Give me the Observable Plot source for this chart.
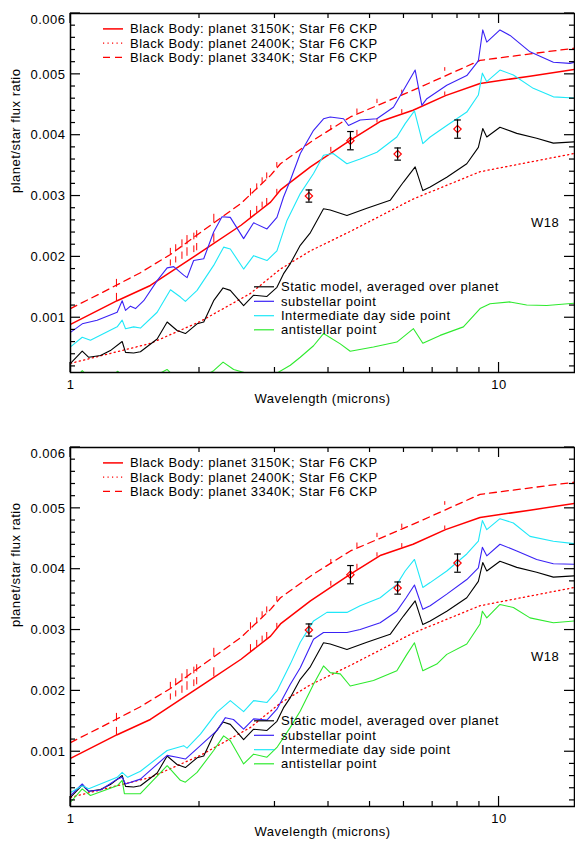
<!DOCTYPE html>
<html>
<head>
<meta charset="utf-8">
<script src="https://cdn.jsdelivr.net/npm/d3@7"></script>
<script src="https://cdn.jsdelivr.net/npm/@observablehq/plot@0.6"></script>
<style>
  html, body { margin: 0; padding: 0; background: #fff; }
  #chart { width: 575px; }
  svg { display: block; }
  svg text { letter-spacing: 0.5px; }
</style>
</head>
<body>
<div id="chart"></div>
<script>
// ---------- data (wavelength in microns, planet/star flux ratio) ----------
const bb3150 = [[1.0,0.00089],[1.285,0.00128],[1.536,0.00153],[2.046,0.00211],[2.5,0.00252],[2.93,0.0029],[3.09,0.0031],[3.63,0.00348],[4.5,0.00392],[5.3,0.00423],[6.3,0.00441],[7.5,0.00465],[9.03,0.00485],[11.8,0.00497],[15,0.00508]];
const bb2400 = [[1.0,0.00025],[1.54,0.00058],[2.01,0.00094],[2.63,0.0014],[3.09,0.0018],[3.63,0.0021],[4.5,0.00242],[6.3,0.00295],[9.03,0.0034],[15,0.0037]];
const bb3340 = [[1.0,0.00115],[1.175,0.0014],[1.456,0.00174],[1.711,0.00204],[2.046,0.00244],[2.5,0.00288],[2.93,0.00334],[3.09,0.00353],[3.69,0.00392],[4.5,0.0043],[6.31,0.00474],[9.03,0.00523],[15,0.00543]];
// stellar line spikes: [wavelength, base, top]
const spikes3150 = [[1.28,0.00127,0.0014],[1.71,0.00185,0.00195],[1.76,0.0019,0.002],[1.82,0.00196,0.00208],[1.87,0.00201,0.00215],[1.94,0.00207,0.00218],[1.97,0.0021,0.00222],[2.16,0.00223,0.00238],[2.63,0.00264,0.00276],[2.72,0.00272,0.00283],[2.80,0.0028,0.0029],[2.87,0.00285,0.00296],[3.03,0.00303,0.00311],[4.05,0.00372,0.0038],[4.66,0.00399,0.00408],[5.19,0.0042,0.00427],[5.93,0.00435,0.00442],[7.47,0.00465,0.00471]];
const spikes3340 = [[1.28,0.0015,0.00163],[1.71,0.00204,0.00214],[1.76,0.00209,0.0022],[1.82,0.00215,0.00228],[1.87,0.0022,0.00235],[1.94,0.00228,0.00239],[1.97,0.00231,0.00243],[2.16,0.00256,0.0027],[2.63,0.003,0.00312],[2.72,0.0031,0.0032],[2.80,0.0032,0.0033],[2.87,0.00328,0.00338],[3.03,0.00347,0.00355],[4.05,0.00408,0.00416],[4.66,0.00435,0.00443],[5.19,0.00452,0.00459],[5.93,0.00467,0.00474],[7.47,0.00505,0.00511]];

const staticModel = [[1.0,0.00025],[1.065,0.00045],[1.103,0.00035],[1.175,0.00038],[1.239,0.00046],[1.32,0.00061],[1.344,0.00043],[1.404,0.00042],[1.456,0.00044],[1.593,0.00065],[1.681,0.00093],[1.773,0.00079],[1.854,0.00074],[1.974,0.0009],[2.046,0.00093],[2.158,0.00128],[2.27,0.00149],[2.36,0.00145],[2.535,0.0012],[2.675,0.00137],[2.874,0.00135],[3.032,0.0015],[3.14,0.00172],[3.258,0.00189],[3.437,0.00219],[3.63,0.0024],[3.894,0.00279],[4.037,0.00277],[4.416,0.00268],[4.916,0.0028],[5.571,0.00293],[5.984,0.00323],[6.372,0.00348],[6.64,0.00309],[6.907,0.00315],[7.552,0.00331],[8.409,0.00353],[8.948,0.0038],[9.162,0.00411],[9.362,0.00397],[10.05,0.00413],[11.0,0.00403],[12.24,0.00395],[13.39,0.00387],[15,0.00389]];

const subTop = [[1.0,0.00076],[1.065,0.0009],[1.154,0.00096],[1.285,0.00109],[1.32,0.00128],[1.344,0.00112],[1.38,0.00119],[1.418,0.00115],[1.482,0.00128],[1.593,0.00161],[1.681,0.00182],[1.741,0.00184],[1.837,0.0017],[1.871,0.00166],[1.938,0.00194],[2.046,0.00197],[2.158,0.00241],[2.257,0.00266],[2.36,0.00265],[2.535,0.0023],[2.675,0.00256],[2.874,0.00246],[3.032,0.00265],[3.14,0.00298],[3.258,0.00326],[3.437,0.0037],[3.691,0.00408],[3.894,0.00427],[4.037,0.0043],[4.337,0.00427],[4.454,0.00416],[4.742,0.00425],[5.187,0.00427],[5.671,0.00446],[5.984,0.00474],[6.372,0.00507],[6.605,0.00449],[6.785,0.0046],[7.552,0.00482],[8.409,0.00498],[8.948,0.00522],[9.162,0.00573],[9.362,0.00553],[10.05,0.00573],[10.61,0.00564],[11.81,0.00537],[13.39,0.0052],[14.64,0.00518],[15,0.0052]];
const interTop = [[1.0,0.00052],[1.065,0.00068],[1.113,0.00063],[1.285,0.00085],[1.32,0.00096],[1.344,0.00082],[1.404,0.00085],[1.456,0.00083],[1.593,0.00109],[1.711,0.00146],[1.805,0.00134],[1.854,0.00127],[1.974,0.00145],[2.158,0.00186],[2.277,0.00216],[2.36,0.00213],[2.535,0.0018],[2.675,0.00202],[2.874,0.00194],[3.032,0.0021],[3.2,0.0026],[3.437,0.00304],[3.691,0.00337],[3.894,0.00367],[4.1,0.0037],[4.416,0.00353],[4.742,0.00361],[5.187,0.00372],[5.775,0.00397],[6.039,0.00419],[6.348,0.0044],[6.64,0.00386],[6.907,0.00397],[7.552,0.00416],[8.409,0.00438],[8.948,0.00466],[9.143,0.00502],[9.362,0.00488],[10.05,0.00507],[10.8,0.00499],[12.02,0.00477],[13.39,0.00463],[15,0.00461]];
const antiTop = [[1.0,0.00005],[1.05,0.00008],[1.065,0.00013],[1.09,0.00006],[1.25,0.00006],[1.29,0.00012],[1.31,0.00006],[1.6,0.00007],[1.68,0.00015],[1.72,0.00008],[2.1,0.00008],[2.158,0.00013],[2.27,0.00027],[2.403,0.00015],[2.6,0.00008],[3.032,0.00009],[3.258,0.00022],[3.437,0.00035],[3.691,0.00054],[3.894,0.00074],[4.261,0.00057],[4.495,0.00045],[5.093,0.00052],[5.775,0.0006],[6.314,0.00082],[6.64,0.00058],[7.286,0.00071],[8.257,0.00085],[9.031,0.00115],[9.528,0.00123],[10.61,0.00126],[11.6,0.00121],[12.92,0.0012],[15,0.00124]];

const subBottom = [[1.0,0.00028],[1.065,0.00047],[1.103,0.00035],[1.175,0.00037],[1.285,0.00055],[1.32,0.00058],[1.344,0.00047],[1.456,0.00055],[1.681,0.00094],[1.773,0.00091],[1.854,0.00088],[1.974,0.00105],[2.198,0.00135],[2.298,0.00156],[2.4,0.00153],[2.535,0.00137],[2.675,0.00154],[2.874,0.00152],[3.032,0.0017],[3.258,0.00211],[3.437,0.00238],[3.691,0.00285],[3.894,0.00296],[4.416,0.00296],[4.742,0.00301],[5.28,0.00312],[5.775,0.00331],[6.071,0.00353],[6.348,0.00374],[6.64,0.00334],[6.907,0.0034],[7.552,0.00359],[8.409,0.00383],[8.948,0.00402],[9.143,0.00436],[9.362,0.00422],[10.05,0.00441],[11.0,0.0043],[12.24,0.00416],[13.39,0.00409],[15,0.00408]];
const interBottom = [[1.0,0.00033],[1.065,0.00044],[1.103,0.00039],[1.285,0.00058],[1.32,0.00066],[1.36,0.00058],[1.456,0.00068],[1.681,0.00102],[1.837,0.0011],[1.87,0.00106],[2.01,0.00129],[2.198,0.00165],[2.36,0.00184],[2.535,0.00166],[2.675,0.00184],[2.874,0.00181],[3.032,0.002],[3.258,0.00244],[3.437,0.0028],[3.691,0.00315],[3.966,0.00329],[4.416,0.00329],[4.742,0.0034],[5.28,0.00353],[5.775,0.00375],[6.039,0.00397],[6.348,0.00416],[6.64,0.0037],[6.907,0.00378],[7.552,0.00397],[8.409,0.00425],[8.948,0.00446],[9.143,0.0048],[9.362,0.00465],[10.05,0.00483],[10.8,0.00476],[11.81,0.00454],[13.39,0.00446],[15,0.00442]];
const antiBottom = [[1.0,0.00017],[1.065,0.00039],[1.113,0.00028],[1.285,0.00044],[1.32,0.00053],[1.336,0.00031],[1.456,0.00031],[1.681,0.00077],[1.805,0.00053],[1.854,0.0005],[1.974,0.00066],[2.158,0.00102],[2.277,0.00126],[2.36,0.00118],[2.535,0.0008],[2.675,0.00096],[2.874,0.00091],[3.032,0.00107],[3.258,0.0014],[3.437,0.00167],[3.691,0.00211],[3.894,0.00241],[4.037,0.0023],[4.261,0.00228],[4.495,0.00208],[5.093,0.00217],[5.775,0.00233],[6.094,0.0026],[6.348,0.00279],[6.64,0.00233],[7.157,0.00244],[7.552,0.0026],[8.409,0.00277],[9.031,0.0031],[9.143,0.00331],[9.362,0.0032],[10.05,0.00342],[10.8,0.00337],[11.81,0.0032],[13.39,0.00312],[15,0.00315]];

const obsWavelength = [3.6, 4.5, 5.8, 8.0];
const obsRatio = [0.0030, 0.00391, 0.00369, 0.0041];
const obsError = [0.0001, 0.00015, 0.0001, 0.00015];

const xMajorTicks = [1, 10];
const xMinorTicks = [2, 3, 4, 5, 6, 7, 8, 9];
const xTickLabels = [1, 10];
const yMajorTicks = [0.001, 0.002, 0.003, 0.004, 0.005, 0.006];
const yTickLabels = [0.001, 0.002, 0.003, 0.004, 0.005];
const yTopLabel = [0.006];
const yMinorTicks = [0.0002,0.0004,0.0006,0.0008,0.0012,0.0014,0.0016,0.0018,0.0022,0.0024,0.0026,0.0028,0.0032,0.0034,0.0036,0.0038,0.0042,0.0044,0.0046,0.0048,0.0052,0.0054,0.0056,0.0058];

const bbLegendLabels = ["Black Body: planet 3150K; Star F6 CKP", "Black Body: planet 2400K; Star F6 CKP", "Black Body: planet 3340K; Star F6 CKP"];
const modelLegendLabels = ["Static model, averaged over planet", "substellar point", "Intermediate day side point", "antistellar point"];
const panelLabel = "W18";
const xTitle = "Wavelength (microns)";
const yTitle = "planet/star flux ratio";

// ---------- styles ----------
const RED = "#ff0000";
const modelColors = ["#000000", "#3a22f5", "#1ee8f8", "#2eea2e"];
const bbStyles = [
  {w: 1.5, dash: null},
  {w: 1.3, dash: "1.2,3.3"},
  {w: 1.3, dash: "7,5"}
];

const obs = obsWavelength.map((w, i) => ({w, v: obsRatio[i], e: obsError[i]}));
const capSymbol = {draw(ctx, size) { const r = Math.sqrt(size / Math.PI); ctx.moveTo(-r, 0); ctx.lineTo(r, 0); }};

const FONT = "'Liberation Sans', Arial, Helvetica, sans-serif";

function drawPanel({height, mt, mb, models, titleDy}) {
  const L = d => d[0], V = d => d[1];
  const line = (data, o) => Plot.line(data, {x: L, y: V, clip: true, strokeLinejoin: "round", ...o});
  const svg = Plot.plot({
    width: 575, height,
    marginTop: mt, marginBottom: mb, marginLeft: 70, marginRight: 1,
    x: {type: "log", domain: [1, 15]},
    y: {domain: [0.0001, 0.006]},
    style: {fontFamily: FONT, fontSize: "13px", color: "#000", background: "#fff", overflow: "visible"},
    marks: [
      line(bb2400, {stroke: RED, strokeWidth: bbStyles[1].w, strokeDasharray: bbStyles[1].dash}),
      line(bb3340, {stroke: RED, strokeWidth: bbStyles[2].w, strokeDasharray: bbStyles[2].dash}),
      Plot.ruleX(spikes3340, {x: d => d[0], y1: d => d[1], y2: d => d[2], stroke: RED, strokeWidth: 1}),
      line(bb3150, {stroke: RED, strokeWidth: bbStyles[0].w}),
      Plot.ruleX(spikes3150, {x: d => d[0], y1: d => d[1], y2: d => d[2], stroke: RED, strokeWidth: 1}),
      ...models.map((m, i) => line(m, {stroke: modelColors[i], strokeWidth: 1.1})),
      Plot.dot(obs, {x: "w", y: "v", symbol: "diamond2", r: 3.3, stroke: RED, fill: "none", strokeWidth: 1.2}),
      Plot.ruleX(obs, {x: "w", y1: d => d.v - d.e, y2: d => d.v + d.e, stroke: "#000", strokeWidth: 1.2}),
      Plot.dot(obs, {x: "w", y: d => d.v - d.e, symbol: capSymbol, r: 3.3, stroke: "#000", strokeWidth: 1.2}),
      Plot.dot(obs, {x: "w", y: d => d.v + d.e, symbol: capSymbol, r: 3.3, stroke: "#000", strokeWidth: 1.2}),
      Plot.axisX(xTickLabels, {anchor: "bottom", tickSize: 0, tickPadding: 7, tickFormat: d => String(d), label: null, fontSize: 13}),
      Plot.axisY(yTickLabels, {anchor: "left", tickSize: 0, tickPadding: 5, tickFormat: d3.format(".3f"), label: null, fontSize: 13}),
      Plot.axisY(yTopLabel, {anchor: "left", tickSize: 0, tickPadding: 5, tickFormat: d3.format(".3f"), label: null, fontSize: 13, dy: 6}),
      Plot.frame({stroke: "#000", strokeWidth: 1.5}),
      Plot.text([yTitle], {frameAnchor: "left", dx: -55, rotate: -90, fontSize: 13}),
      Plot.text([xTitle], {frameAnchor: "bottom", dy: titleDy, fontSize: 13})
    ]
  });

  const xs = svg.scale("x"), ys = svg.scale("y");
  const X = v => xs.apply(v), Y = v => ys.apply(v);
  const left = 70, right = 575 - 1, top = mt, bottom = height - mb;
  const s = d3.select(svg);

  // IDL-style inward ticks on all four sides, placed through the plot's scales
  const t = s.append("g").attr("stroke", "#000").attr("stroke-width", 1.2);
  [[xMajorTicks, 10], [xMinorTicks, 5]].forEach(([vals, len]) => vals.forEach(v => {
    const px = X(v);
    t.append("line").attr("x1", px).attr("x2", px).attr("y1", bottom).attr("y2", bottom - len);
    t.append("line").attr("x1", px).attr("x2", px).attr("y1", top).attr("y2", top + len);
  }));
  [[yMajorTicks, 10], [yMinorTicks, 5]].forEach(([vals, len]) => vals.forEach(v => {
    const py = Y(v);
    t.append("line").attr("x1", left).attr("x2", left + len).attr("y1", py).attr("y2", py);
    t.append("line").attr("x1", right).attr("x2", right - len).attr("y1", py).attr("y2", py);
  }));

  // in-plot legends and panel label
  const g = s.append("g").attr("font-family", FONT).attr("font-size", 13).attr("fill", "#000").attr("text-anchor", "start");
  const rows1 = [15.9, 30.1, 44.3];
  bbLegendLabels.forEach((lab, i) => {
    const y = mt + rows1[i];
    g.append("line").attr("x1", 103).attr("x2", 123).attr("y1", y).attr("y2", y)
      .attr("stroke", RED).attr("stroke-width", bbStyles[i].w)
      .attr("stroke-dasharray", bbStyles[i].dash || null);
    g.append("text").attr("x", 130).attr("y", y).attr("dominant-baseline", "central").text(lab);
  });
  const rows2 = [273.8, 288.3, 302.7, 316.8];
  modelLegendLabels.forEach((lab, i) => {
    const y = mt + rows2[i];
    g.append("line").attr("x1", 254).attr("x2", 274).attr("y1", y).attr("y2", y)
      .attr("stroke", modelColors[i]).attr("stroke-width", 1.2);
    g.append("text").attr("x", 281).attr("y", y).attr("dominant-baseline", "central").text(lab);
  });
  g.append("text").attr("x", 545).attr("y", mt + 209.7).attr("text-anchor", "middle")
    .attr("dominant-baseline", "central").text(panelLabel);
  return svg;
}

const chart = document.getElementById("chart");
chart.append(drawPanel({height: 420, mt: 13, mb: 48, titleDy: 30, models: [staticModel, subTop, interTop, antiTop]}));
chart.append(drawPanel({height: 423, mt: 27, mb: 37, titleDy: 29, models: [staticModel, subBottom, interBottom, antiBottom]}));
</script>
</body>
</html>
